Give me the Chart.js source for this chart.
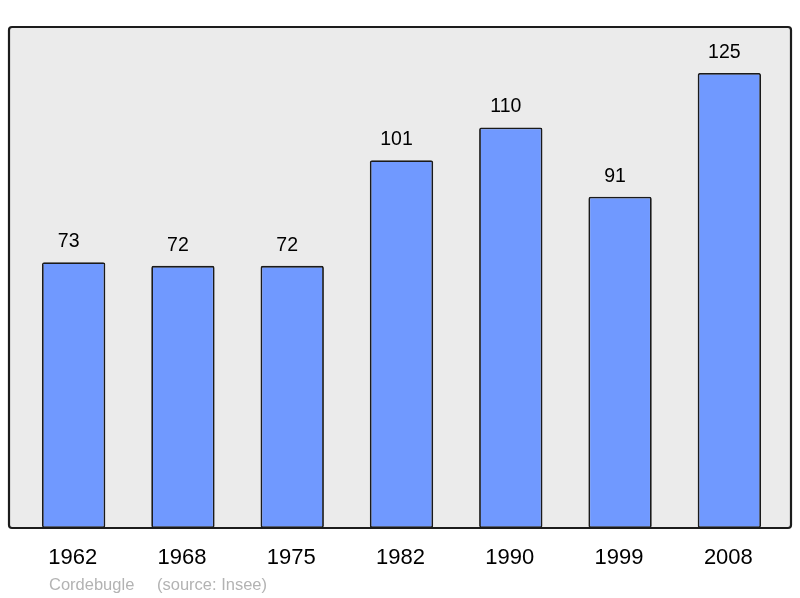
<!DOCTYPE html>
<html>
<head>
<meta charset="utf-8">
<script src="https://cdn.jsdelivr.net/npm/chart.js@4/dist/chart.umd.min.js"></script>
<style>
  html, body { margin: 0; padding: 0; background: #fff; }
  #wrap { width: 800px; height: 598px; }
</style>
</head>
<body>
<div id="wrap"><canvas id="chart" width="800" height="598"></canvas></div>
<script>
const years = ["1962", "1968", "1975", "1982", "1990", "1999", "2008"];
const population = [73, 72, 72, 101, 110, 91, 125];
const sourceNote = ["Cordebugle", "(source: Insee)"];

// frame, value labels, year labels and footer
const decorPlugin = {
  id: "decor",
  beforeDraw(chart) {
    const ctx = chart.ctx;
    ctx.save();
    ctx.fillStyle = "#ebebeb";
    ctx.strokeStyle = "#1c1c1c";
    ctx.lineWidth = 2.2;
    ctx.beginPath();
    ctx.roundRect(9, 27, 782, 501, 3);
    ctx.fill();
    ctx.stroke();
    ctx.restore();
  },
  afterDatasetsDraw(chart) {
    const ctx = chart.ctx;
    const meta = chart.getDatasetMeta(0);
    const x = chart.scales.x;
    ctx.save();
    ctx.fillStyle = "#000";
    ctx.textAlign = "center";
    ctx.textBaseline = "alphabetic";
    ctx.font = "19.5px 'Liberation Sans', Arial, sans-serif";
    meta.data.forEach((bar, i) => {
      ctx.fillText(String(population[i]), bar.x - 5, bar.y - 15);
    });
    ctx.font = "22px 'Liberation Sans', Arial, sans-serif";
    years.forEach((y, i) => {
      ctx.fillText(y, x.getPixelForValue(i) - 1, 564);
    });
    ctx.fillStyle = "#b3b3b3";
    ctx.font = "16.5px 'Liberation Sans', Arial, sans-serif";
    ctx.textAlign = "left";
    ctx.fillText(sourceNote[0], 49, 590);
    ctx.fillText(sourceNote[1], 157, 590);
    ctx.restore();
  }
};

new Chart(document.getElementById("chart"), {
  type: "bar",
  data: {
    labels: years,
    datasets: [{
      data: population,
      backgroundColor: "#7099ff",
      borderColor: "#1a1a1a",
      borderWidth: 1.8,
      borderRadius: 2,
      borderSkipped: false,
      barPercentage: 0.58,
      categoryPercentage: 1
    }]
  },
  options: {
    responsive: false,
    animation: false,
    layout: { padding: { left: 19, right: 16, top: 27, bottom: 70 } },
    plugins: { legend: { display: false }, tooltip: { enabled: false } },
    scales: {
      x: { display: false },
      y: { display: false, min: 0, max: 137.6 }
    }
  },
  plugins: [decorPlugin]
});
</script>
</body>
</html>
